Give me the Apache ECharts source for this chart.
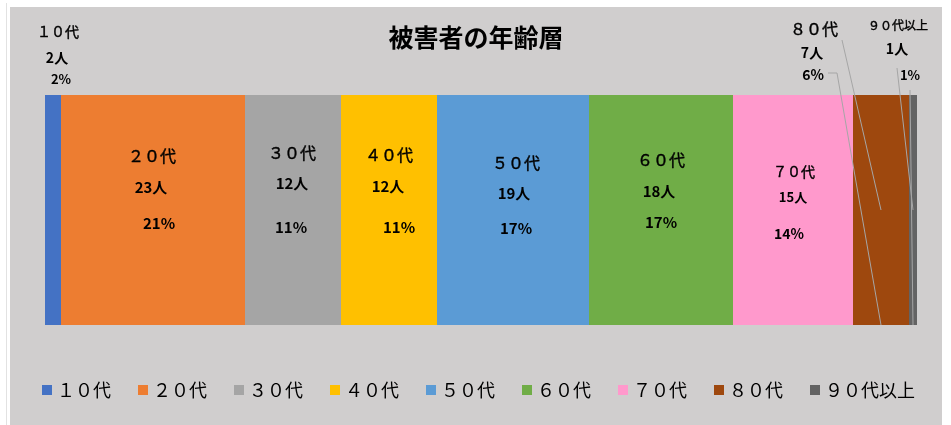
<!DOCTYPE html>
<html><head><meta charset="utf-8">
<script src="https://cdn.jsdelivr.net/npm/echarts@6/dist/echarts.min.js"></script>
<style>
html,body{margin:0;padding:0;background:#fff;width:951px;height:425px;overflow:hidden;}
#frame{position:absolute;left:6px;top:3px;width:1px;height:422px;background:#e2e2e2;}
#c{position:absolute;left:10px;top:7px;width:932px;height:418px;background:#D0CECE;}
</style>
</head><body><div id="frame"></div><div id="c"></div>
<script>
// ---- data ----
const categories = ['１０代','２０代','３０代','４０代','５０代','６０代','７０代','８０代','９０代以上'];
const counts = [2, 23, 12, 12, 19, 18, 15, 7, 1];
const percents = [2, 21, 11, 11, 17, 17, 14, 6, 1];
const titleText = '被害者の年齢層';
const colors = ['#4472C4','#ED7D31','#A5A5A5','#FFC000','#5B9BD5','#70AD47','#FF99CC','#9E480E','#636363'];

// ---- label layout (offsets from segment centre x / bar top y) ----
const nameOff  = [[5,-63],[-1,61],[-1,58],[0,60],[3,68],[0,65],[1,77],[-67,-66],[-15,-70]];
const countOff = [[4,-37],[-2,92],[-1,88],[-1,91],[1,98],[-2,96],[0,102],[-69,-42],[-16,-46]];
const pctOff   = [[8,-16],[6,128],[-2,132],[10,132],[3,133],[0,127],[-4,139],[-68,-20],[-3,-20]];
const nameSize  = [14,16,16,16,16,16,14,16,12];
const countSize = [14,15,15,15,15,15,13,14,14];
const pctSize   = [13,15,15,15,15,15,14,14,13];
// leader lines: segment index, which label, start points relative to label centre, end on bar ('mid' | 'bottom')
const leaderLines = [
  {seg: 7, off: nameOff,  pts: [[28,11]],          end: 'mid'},
  {seg: 7, off: pctOff,   pts: [[15,-2],[24,-2]],  end: 'bottom'},
  {seg: 8, off: countOff, pts: [[0,19]],           end: 'mid'},
  {seg: 8, off: pctOff,   pts: [[0,15]],           end: 'bottom'}
];

const total = counts.reduce((a,b)=>a+b,0);
const starts = counts.map((v,i)=>counts.slice(0,i).reduce((a,b)=>a+b,0));
const FONT = '"Noto Sans CJK JP", sans-serif';

function makeLayout(off, i) {
  return function (p) {
    const r = p.rect;
    return {x: r.x + r.width / 2 + off[i][0], y: r.y + off[i][1], align: 'center', verticalAlign: 'middle'};
  };
}

const series = [];
categories.forEach((c, i) => {
  series.push({
    name: c, type: 'bar', stack: 'main', barWidth: '100%', barGap: '-100%',
    data: [counts[i]], itemStyle: {color: colors[i]},
    label: {show: true, formatter: c, fontFamily: FONT, fontSize: nameSize[i], color: '#000',
      textBorderColor: '#000', textBorderWidth: 0.4},
    labelLayout: makeLayout(nameOff, i),
    emphasis: {disabled: true}
  });
});
categories.forEach((c, i) => {
  series.push({
    name: c + '_count', type: 'bar', stack: 'count', barWidth: '100%', barGap: '-100%',
    data: [counts[i]], itemStyle: {color: 'rgba(0,0,0,0)'},
    label: {show: true, formatter: counts[i] + '人', fontFamily: FONT, fontWeight: 'bold', fontSize: countSize[i], color: '#000'},
    labelLayout: makeLayout(countOff, i),
    emphasis: {disabled: true}, silent: true
  });
});
categories.forEach((c, i) => {
  series.push({
    name: c + '_pct', type: 'bar', stack: 'pct', barWidth: '100%', barGap: '-100%',
    data: [counts[i]], itemStyle: {color: 'rgba(0,0,0,0)'},
    label: {show: true, formatter: percents[i] + '%', fontFamily: FONT, fontWeight: 'bold', fontSize: pctSize[i], color: '#000'},
    labelLayout: makeLayout(pctOff, i),
    emphasis: {disabled: true}, silent: true
  });
});
series.push({
  name: 'leader', type: 'custom', z: 10, silent: true,
  data: leaderLines.map(l => [starts[l.seg], starts[l.seg] + counts[l.seg], 0]),
  encode: {x: [0, 1], y: 2},
  renderItem: function (params, api) {
    const l = leaderLines[params.dataIndex];
    const p0 = api.coord([api.value(0), 0]);
    const p1 = api.coord([api.value(1), 0]);
    const band = api.size([0, 1])[1];
    const top = p0[1] - band / 2;
    const segCx = (p0[0] + p1[0]) / 2;
    const lx = segCx + l.off[l.seg][0], ly = top + l.off[l.seg][1];
    const pts = l.pts.map(q => [lx + q[0], ly + q[1]]);
    pts.push([segCx, l.end === 'mid' ? top + band / 2 : top + band]);
    return {type: 'polyline', shape: {points: pts}, style: {stroke: '#A6A6A6', lineWidth: 1, fill: null}};
  }
});

const chart = echarts.init(document.getElementById('c'));
chart.setOption({
  animation: false,
  backgroundColor: '#D0CECE',
  color: colors,
  title: {text: titleText, left: 'center', top: 13,
    textStyle: {fontFamily: FONT, fontSize: 25, fontWeight: 'bold', color: '#000'}},
  legend: {data: categories, left: 32, top: 374, padding: 0, itemWidth: 10, itemHeight: 10, itemGap: 27,
    icon: 'rect',
    textStyle: {fontFamily: FONT, fontSize: 18, color: '#000'}},
  grid: {left: 35, top: 88, width: 872, height: 230, containLabel: false},
  xAxis: {type: 'value', min: 0, max: total, show: false},
  yAxis: {type: 'category', data: ['被害者'], show: false},
  series: series
});
</script>
</body></html>
